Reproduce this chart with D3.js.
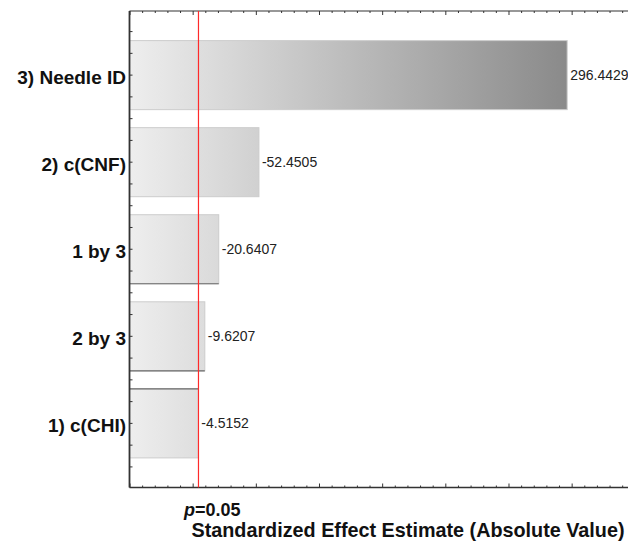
<!DOCTYPE html>
<html>
<head>
<meta charset="utf-8">
<script src="https://cdn.jsdelivr.net/npm/d3@7"></script>
<style>
  body { margin: 0; background: #fff; }
  svg { display: block; font-family: Arial, "Liberation Sans", sans-serif; }
</style>
</head>
<body>
<div id="chart"></div>
<script>
const chart_width = 628;
const chart_height = 542;

// Pareto data: factor names and standardized effects (signed, as labelled)
const factors = ['3) Needle ID', '2) c(CNF)', '1 by 3', '2 by 3', '1) c(CHI)'];
const effects = [296.4429, -52.4505, -20.6407, -9.6207, -4.5152];
const effect_labels = ['296.4429', '-52.4505', '-20.6407', '-9.6207', '-4.5152'];
const p_value_line = 4.6;   // t critical, p = 0.05
const x_domain = [-50, 350];

const margin = { left: 129.5, top: 11, bottom: 54.5 };
const plot_bottom = chart_height - margin.bottom;

const svg = d3.select('#chart')
    .append('svg')
    .attr('width', chart_width)
    .attr('height', chart_height);

//--------------------------------------------------------------------
// Scales
const x_scale = d3.scaleLinear()
    .domain(x_domain)
    .range([margin.left, margin.left + 400 * 1.2633]);

const y_scale = d3.scaleBand()
    .domain(factors)
    .range([margin.top, plot_bottom])
    .paddingInner(0.207)
    .paddingOuter(0.34);

// gradient running along the whole x axis
const grad = svg.append('defs').append('linearGradient')
    .attr('id', 'barGrad')
    .attr('gradientUnits', 'userSpaceOnUse')
    .attr('x1', x_scale(-50)).attr('x2', x_scale(296.4429))
    .attr('y1', 0).attr('y2', 0);
grad.append('stop').attr('offset', 0).attr('stop-color', '#eeeeee');
grad.append('stop').attr('offset', 1).attr('stop-color', '#8a8a8a');

//--------------------------------------------------------------------
// Bars (absolute value, drawn from the axis start)
const rows = factors.map((f, i) => ({ f, v: Math.abs(effects[i]), lab: effect_labels[i] }));

svg.append('g').selectAll('rect')
    .data(rows)
    .enter()
    .append('rect')
    .attr('x', x_scale(x_domain[0]))
    .attr('y', d => y_scale(d.f))
    .attr('width', d => x_scale(d.v) - x_scale(x_domain[0]))
    .attr('height', y_scale.bandwidth())
    .attr('fill', 'url(#barGrad)')
    .attr('stroke', '#cccccc')
    .attr('stroke-width', 1);

// darker edges seen on a few bars
const edge = (name, side) => {
    const d = rows.find(r => r.f === name);
    const yy = side === 'bottom' ? y_scale(d.f) + y_scale.bandwidth() : y_scale(d.f);
    svg.append('line')
        .attr('x1', x_scale(x_domain[0])).attr('x2', x_scale(d.v))
        .attr('y1', yy).attr('y2', yy)
        .attr('stroke', '#6a6a6a').attr('stroke-width', 1.2);
};
edge('1 by 3', 'bottom');
edge('2 by 3', 'bottom');
edge('1) c(CHI)', 'top');

// value labels
svg.append('g').selectAll('text')
    .data(rows)
    .enter()
    .append('text')
    .text(d => d.lab)
    .attr('x', d => x_scale(d.v) + 3)
    .attr('y', d => y_scale(d.f) + y_scale.bandwidth() / 2)
    .attr('dy', '0.35em')
    .attr('font-size', 14)
    .attr('fill', '#222');

//--------------------------------------------------------------------
// Axes
const major = d3.range(x_domain[0], x_domain[1] + 1, 50);
const minor = d3.range(x_domain[0], x_domain[1] + 1, 10).filter(v => v % 50 !== 0);

const addX = (axisFn, ty, vals, size) => {
    const g = svg.append('g')
        .attr('transform', 'translate(0,' + ty + ')')
        .call(axisFn(x_scale).tickValues(vals).tickSizeInner(size).tickSizeOuter(0).tickFormat(''));
    g.select('.domain').remove();
    g.selectAll('line').attr('stroke', '#333');
};
addX(d3.axisBottom, plot_bottom, minor, -2);
addX(d3.axisBottom, plot_bottom, major, -4);
addX(d3.axisTop, margin.top, minor, -2);
addX(d3.axisTop, margin.top, major, -4);

// left axis ticks at quarter steps of each category
const step = y_scale.step();
const first_c = y_scale(factors[0]) + y_scale.bandwidth() / 2;
const y_ticks = d3.range(0, factors.length * 4 + 1).map(k => first_c - step / 2 + k * step / 4);
svg.append('g').selectAll('line')
    .data(y_ticks)
    .enter()
    .append('line')
    .attr('x1', margin.left).attr('x2', margin.left + 3)
    .attr('y1', d => d).attr('y2', d => d)
    .attr('stroke', '#333');

// frame lines
svg.append('line')
    .attr('x1', margin.left).attr('x2', chart_width)
    .attr('y1', margin.top).attr('y2', margin.top)
    .attr('stroke', '#333').attr('stroke-width', 1.2);
svg.append('line')
    .attr('x1', margin.left).attr('x2', chart_width)
    .attr('y1', plot_bottom).attr('y2', plot_bottom)
    .attr('stroke', '#333').attr('stroke-width', 1.5);
svg.append('line')
    .attr('x1', margin.left).attr('x2', margin.left)
    .attr('y1', margin.top).attr('y2', plot_bottom)
    .attr('stroke', '#333').attr('stroke-width', 1.8);

// category labels
svg.append('g').selectAll('text')
    .data(factors)
    .enter()
    .append('text')
    .text(d => d)
    .attr('x', margin.left - 3.5)
    .attr('y', d => y_scale(d) + y_scale.bandwidth() / 2)
    .attr('dy', '0.47em')
    .attr('text-anchor', 'end')
    .attr('font-size', 19)
    .attr('font-weight', 'bold')
    .attr('fill', '#111');

// p = 0.05 reference line
svg.append('line')
    .attr('x1', x_scale(p_value_line)).attr('x2', x_scale(p_value_line))
    .attr('y1', margin.top).attr('y2', plot_bottom)
    .attr('stroke', '#ff2a2a').attr('stroke-width', 1.2);

const plab = svg.append('text')
    .attr('x', 184)
    .attr('y', 516)
    .attr('font-size', 18)
    .attr('font-weight', 'bold')
    .attr('fill', '#111');
plab.append('tspan').attr('font-style', 'italic').text('p');
plab.append('tspan').text('=0.05');

// axis title
svg.append('text')
    .attr('x', 408)
    .attr('y', 536.5)
    .attr('text-anchor', 'middle')
    .attr('font-size', 19.8)
    .attr('font-weight', 'bold')
    .attr('fill', '#111')
    .text('Standardized Effect Estimate (Absolute Value)');
</script>
</body>
</html>
